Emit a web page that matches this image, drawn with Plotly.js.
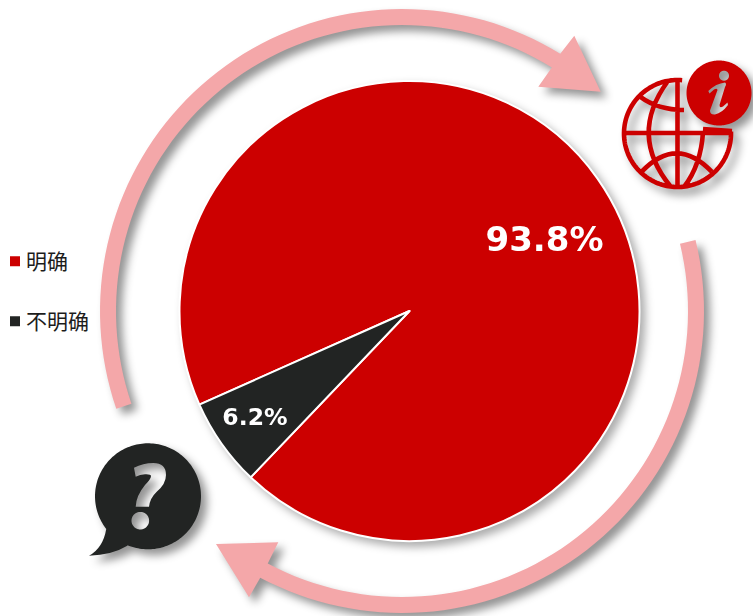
<!DOCTYPE html>
<html>
<head>
<meta charset="utf-8">
<script src="https://cdn.plot.ly/plotly-3.0.1.min.js"></script>
<style>
  html, body { margin: 0; padding: 0; background: #fff; }
  #chart { width: 753px; height: 616px; }
  .pielayer { filter: drop-shadow(5px 5px 4px rgba(0,0,0,.32)); }
  .layer-above .shapelayer { filter: drop-shadow(6px 6px 4px rgba(0,0,0,.42)); }
</style>
</head>
<body>
<div id="chart"></div>
<script>
const categories = ['明确', '不明确'];
const shares = [93.8, 6.2];
const sliceColors = ['#CC0000', '#222423'];
const labelSizes = [34, 23.5];

const W = 753, H = 616;
const RED = '#CC0000', DARK = '#222423', PINK = '#F4A7A9';

// Pixel-space path strings are rescaled to paper fractions for the shapes.
function toPaper(path) {
  let isX = true;
  return path.replace(/-?\d+(\.\d+)?/g, n => {
    const v = isX ? +n / W : 1 - +n / H;
    isX = !isX;
    return v.toFixed(5);
  });
}
function arcPts(cx, cy, r, fromDeg, toDeg) {
  const pts = [], n = Math.ceil(Math.abs(toDeg - fromDeg) / 2);
  for (let i = 0; i <= n; i++) {
    const a = (fromDeg + (toDeg - fromDeg) * i / n) * Math.PI / 180;
    pts.push([cx + r * Math.cos(a), cy + r * Math.sin(a)]);
  }
  return pts;
}
function poly(pts, close) {
  return pts.map((p, i) => (i ? 'L' : 'M') + p[0].toFixed(2) + ' ' + p[1].toFixed(2)).join(' ') + (close ? ' Z' : '');
}
function circle(cx, cy, r) { return poly(arcPts(cx, cy, r, 0, 360), true); }

// Curved ring arrow: outer edge, arrow head, then inner edge back to the start.
function ringArrow(fromDeg, toDeg, head) {
  const cx = 402, cy = 311, r = 294, half = 8;
  const outer = arcPts(cx, cy, r + half, fromDeg, toDeg);
  const inner = arcPts(cx, cy, r - half, toDeg, fromDeg);
  return poly(outer.concat(head, inner), true);
}
const arrowTop = ringArrow(161.1, 301.6, [[574.3, 35.7], [600.7, 91.7], [538.3, 86.7]]);
const arrowBottom = ringArrow(-13.6, 118, [[249, 597.3], [216, 544], [278.3, 542.3]]);

// Speech bubble with a cut-out question mark.
const bubbleArc = arcPts(148, 496.3, 53, 112.7, -218);
const bubble = poly(bubbleArc, false) + ' Q 103 548 89 555.7 Q 112 555 127.3 545.7 Z';
const questionMark = 'M134 467.7 Q 143 463 153.3 463 Q 166 463 166 475 Q 166 484 156.7 491.7 Q 150 498 149 506.7 L 135.7 506.7 Q 136 496 145 485 Q 151 479 151 476 Q 151 474 145 474.3 Q 140 474.7 135.7 476.7 Z';
const questionDot = circle(140.3, 520.7, 8.8);

// Globe wireframe.
const globeOutline = poly(arcPts(677.5, 133.5, 53.5, -85, -362), false);
const globeLines = [
  globeOutline,
  'M703 129 L732 131',
  'M625 133 L731 133',
  'M677.5 80 L677.5 187',
  'M668 81 Q 628 135 671 187',
  'M703 132 Q 701 165 684 187',
  'M640 96.7 Q 658 110 684 110',
  'M641.7 171.7 Q 676.7 135 711.7 171.7'
];

// Information badge with a cut-out italic i.
const infoDisc = circle(719, 93, 32.5);
const infoDot = circle(724, 75.7, 5);
const infoStem = 'M708.3 91 Q 716 83.5 725 82.5 Q 727 84 725 87 L 719.5 105 Q 719.5 108.5 723 106.5 L 727.5 102.5 L 728 105 Q 722 113 715 114.5 Q 710 115 710 110.5 L 717.5 90 Q 717 88 714 89.5 L 709.5 93.5 Z';

function filled(path, color) {
  return { type: 'path', xref: 'paper', yref: 'paper', path: toPaper(path), fillcolor: color, line: { width: 0 }, layer: 'above' };
}
const shapes = [
  filled(arrowTop, PINK),
  filled(arrowBottom, PINK),
  filled(bubble + ' ' + questionMark + ' ' + questionDot, DARK),
  {
    type: 'path', xref: 'paper', yref: 'paper', path: toPaper(globeLines.join(' ')),
    fillcolor: 'rgba(0,0,0,0)', line: { color: RED, width: 4.6 }, layer: 'above'
  },
  filled(infoDisc + ' ' + infoDot + ' ' + infoStem, RED)
];

const trace = {
  type: 'pie',
  labels: categories,
  values: shares,
  sort: false,
  direction: 'clockwise',
  rotation: 246,
  marker: { colors: sliceColors, line: { color: '#FFFFFF', width: 2 } },
  texttemplate: '%{percent:.1%}',
  textposition: 'inside',
  insidetextorientation: 'horizontal',
  insidetextfont: { family: 'DejaVu Sans', color: '#FFFFFF', size: labelSizes, weight: 'bold' },
  hoverinfo: 'label+percent',
  domain: { x: [179.5 / W, 639.5 / W], y: [1 - 541 / H, 1 - 81 / H] }
};

const layout = {
  width: W, height: H,
  margin: { l: 0, r: 0, t: 0, b: 0 },
  paper_bgcolor: '#FFFFFF',
  showlegend: true,
  legend: {
    x: 0, y: 1 - 241 / H, xanchor: 'left', yanchor: 'top',
    bgcolor: 'rgba(0,0,0,0)',
    font: { family: '"DejaVu Sans","Noto Sans CJK SC",sans-serif', size: 21, color: '#1C1C1C' }
  },
  shapes: shapes
};

// Legend rows sit further apart than the library's default, with the swatch
// close to the text; the slice labels are pushed outwards from their centroids.
const legendRowY = [0, 60];
const legendRowX = -5;
const legendTextShift = -9;
const labelNudges = [[41, -6], [3, -5]];

Plotly.newPlot('chart', [trace], layout, { displayModeBar: false, responsive: false }).then(gd => {
  const legend = gd.querySelector('.legend');
  legend.querySelector('.scrollbox').removeAttribute('clip-path');
  const rows = legend.querySelectorAll('.traces');
  const base = rows[0].transform.baseVal.consolidate().matrix.f;
  rows.forEach((row, i) => {
    const x = row.transform.baseVal.consolidate().matrix.e;
    row.setAttribute('transform', `translate(${x + legendRowX},${base + legendRowY[i]})`);
    const text = row.querySelector('.legendtext');
    text.setAttribute('x', +text.getAttribute('x') + legendTextShift);
  });
  gd.querySelectorAll('.pielayer g.slicetext').forEach((label, i) => {
    const [dx, dy] = labelNudges[i];
    label.setAttribute('transform', `translate(${dx},${dy}) ` + (label.getAttribute('transform') || ''));
  });
});
</script>
</body>
</html>
